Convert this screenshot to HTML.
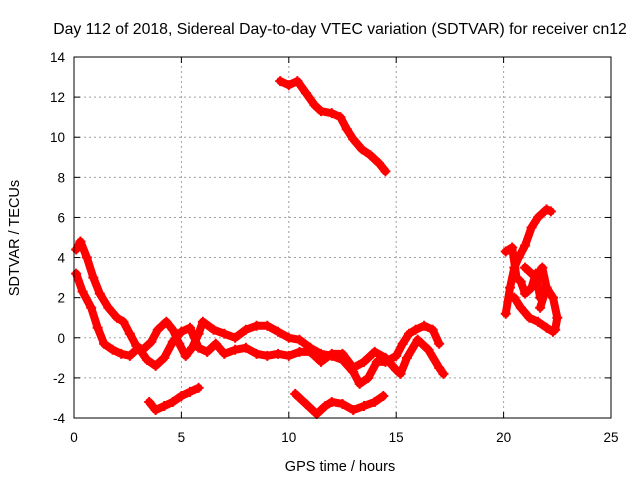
<!DOCTYPE html>
<html><head><meta charset="utf-8"><style>
body{margin:0;background:#fff}
svg{display:block;font-family:"Liberation Sans",sans-serif}
</style></head><body>
<svg id="chart" width="640" height="480">
<text x="340" y="34" text-anchor="middle" font-size="15.8">Day 112 of 2018, Sidereal Day-to-day VTEC variation (SDTVAR) for receiver cn12</text>
<text transform="translate(19,238) rotate(-90)" text-anchor="middle" font-size="14.5">SDTVAR / TECUs</text>
<text x="340" y="471" text-anchor="middle" font-size="14.5">GPS time / hours</text>
<g id="grid"></g><g id="series"></g><g id="axes"></g>
</svg>
<script>
const xTicks=[0,5,10,15,20,25];
const yTicks=[-4,-2,0,2,4,6,8,10,12,14];
const trackMainUpperT=[0.1,0.3,0.6,0.9,1.2,1.6,2.0,2.3,2.6,2.9,3.2,3.6,3.9,4.3,4.6,4.9,5.2,5.5,5.8,6.0,6.5,7.0,7.5,8.0,8.5,9.0,9.5,10.0,10.5,11.0,11.5,12.0,12.5,13.0,13.3,13.7,14.1,14.5,15.0,15.3,15.6,15.9,16.3,16.7,17.0];
const trackMainUpperV=[4.4,4.8,4.0,3.0,2.2,1.5,1.0,0.8,0.2,-0.4,-0.6,-0.2,0.4,0.8,0.4,-0.3,-0.9,-0.5,0.2,0.8,0.4,0.2,0.0,0.4,0.6,0.6,0.3,0.0,-0.1,-0.5,-0.8,-0.9,-1.1,-1.7,-2.3,-2.0,-1.2,-1.2,-0.9,-0.3,0.2,0.4,0.6,0.4,-0.3];
const trackMainLowerT=[0.1,0.4,0.8,1.1,1.4,1.8,2.2,2.6,3.0,3.4,3.8,4.2,4.6,5.0,5.4,5.8,6.2,6.6,7.0,7.5,8.0,8.5,9.0,9.5,10.0,10.5,11.0,11.5,12.0,12.5,13.0,13.5,14.0,14.5,15.0,15.2,15.5,16.0,16.5,17.0,17.2];
const trackMainLowerV=[3.2,2.3,1.5,0.5,-0.3,-0.6,-0.8,-0.9,-0.5,-1.1,-1.4,-1.0,-0.2,0.3,0.5,-0.5,-0.7,-0.3,-0.8,-0.6,-0.5,-0.8,-0.9,-0.8,-0.9,-0.7,-0.7,-1.2,-0.8,-0.8,-1.5,-1.2,-0.7,-1.0,-1.6,-1.8,-1.0,-0.1,-0.6,-1.5,-1.8];
const trackLowLeftT=[3.5,3.8,4.2,4.6,5.0,5.4,5.8];
const trackLowLeftV=[-3.2,-3.6,-3.4,-3.2,-2.9,-2.7,-2.5];
const trackLowMidT=[10.3,10.8,11.3,11.7,12.0,12.5,13.0,13.5,14.0,14.4];
const trackLowMidV=[-2.8,-3.3,-3.8,-3.4,-3.2,-3.3,-3.6,-3.4,-3.2,-2.9];
const trackHighT=[9.6,10.0,10.4,10.8,11.2,11.5,12.0,12.4,12.7,13.0,13.4,13.8,14.2,14.5];
const trackHighV=[12.8,12.6,12.8,12.2,11.6,11.3,11.2,11.0,10.4,9.9,9.4,9.1,8.7,8.3];
const trackEveATimes=[20.1,20.3,20.5,20.7,21.0,21.3,21.6,22.0,22.2];
const trackEveAV=[1.2,2.5,3.5,4.0,4.6,5.5,6.0,6.4,6.3];
const trackEveBT=[20.1,20.4,20.6,20.8,21.0,21.3,21.5,21.7,22.0,22.3,22.5,22.4];
const trackEveBV=[4.3,4.5,3.0,2.8,2.2,2.5,3.2,2.0,2.5,2.0,1.0,0.4];
const trackEveCT=[20.5,20.8,21.2,21.6,22.0,22.3];
const trackEveCV=[2.0,1.5,1.0,0.8,0.5,0.3];
const trackEveDT=[21.0,21.5,21.8,22.0,21.7];
const trackEveDV=[3.5,3.0,3.5,2.5,1.5];
const tracks=[[trackMainUpperT,trackMainUpperV],[trackMainLowerT,trackMainLowerV],[trackLowLeftT,trackLowLeftV],[trackLowMidT,trackLowMidV],[trackHighT,trackHighV],[trackEveATimes,trackEveAV],[trackEveBT,trackEveBV],[trackEveCT,trackEveCV],[trackEveDT,trackEveDV]];
const X0=74,X1=611,Y0=418,Y1=57;
const sx=t=>X0+(t-0)/25*(X1-X0);
const sy=v=>Y0-(v+4)/18*(Y0-Y1);
const NS='http://www.w3.org/2000/svg';
function mk(tag,parent,attrs){const e=document.createElementNS(NS,tag);for(const k in attrs)e.setAttribute(k,attrs[k]);parent.appendChild(e);return e;}
const grid=document.getElementById('grid'),axes=document.getElementById('axes'),series=document.getElementById('series');
xTicks.forEach(t=>{
 if(t>0&&t<25){const g=mk('line',grid,{x1:sx(t),x2:sx(t),y1:Y0,y2:Y1,stroke:'#a0a0a0','stroke-dasharray':'2,3'});
 
 }
 const tk=mk('line',axes,{x1:sx(t),x2:sx(t),y1:Y0,y2:Y0-6,stroke:'#000'});
 
 
 const tk2=mk('line',axes,{x1:sx(t),x2:sx(t),y1:Y1,y2:Y1+6,stroke:'#000'});
 
 
 const l=mk('text',axes,{x:sx(t),y:Y0+24,'text-anchor':'middle','font-size':13.5});
 l.textContent=t;
 
 
});
yTicks.forEach(v=>{
 if(v>-4&&v<14){const g=mk('line',grid,{x1:X0,x2:X1,y1:sy(v),y2:sy(v),stroke:'#a0a0a0','stroke-dasharray':'2,3'});
 
 }
 const tk=mk('line',axes,{x1:X0,x2:X0+6,y1:sy(v),y2:sy(v),stroke:'#000'});
 
 
 const tk2=mk('line',axes,{x1:X1,x2:X1-6,y1:sy(v),y2:sy(v),stroke:'#000'});
 
 
 const l=mk('text',axes,{x:X0-9,y:sy(v)+5,'text-anchor':'end','font-size':13.5});
 l.textContent=v;
 
 
});
const frame=mk('rect',axes,{x:X0,y:Y1,width:X1-X0,height:Y0-Y1,fill:'none',stroke:'#000'});


tracks.forEach(([T,V])=>{
 const pts=T.map((t,i)=>sx(t)+','+sy(V[i])).join(' ');
 const pl=mk('polyline',series,{points:pts,fill:'none',stroke:'#ff0000','stroke-width':8,'stroke-linejoin':'round','stroke-linecap':'round'});
 
 
 T.forEach((t,i)=>{
  const x=sx(t),y=sy(V[i]);
  const p=mk('path',series,{d:`M${x-5},${y}H${x+5}M${x},${y-5}V${y+5}`,stroke:'#ff0000','stroke-width':2});
  
  
 });
});
</script>
</body></html>
